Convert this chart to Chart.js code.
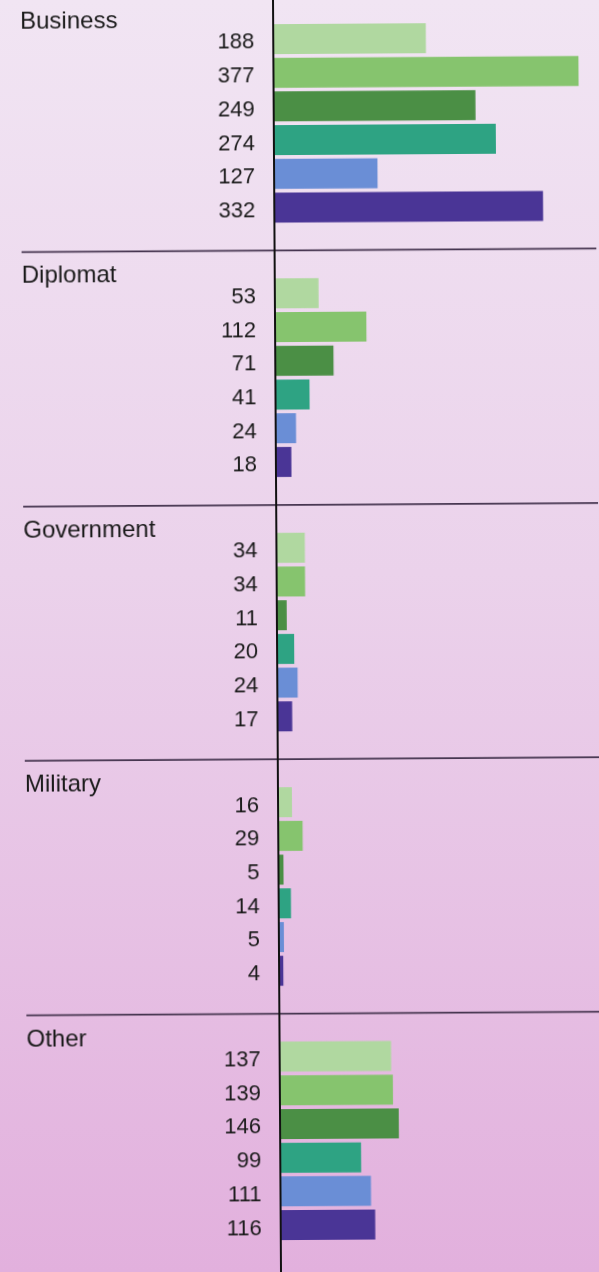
<!DOCTYPE html>
<html lang="en">
<head>
<meta charset="UTF-8" />
<title>Visitors by purpose</title>
<script src="https://cdn.jsdelivr.net/npm/chart.js"></script>
<style>
  html, body {
    margin: 0;
    padding: 0;
    width: 599px;
    height: 1272px;
    overflow: hidden;
    background: linear-gradient(to bottom, #f1e5f3 0%, #ebd2eb 45%, #e2b0dd 100%);
  }
  #wrap {
    position: absolute;
    left: 0;
    top: -10px;
    width: 599px;
    height: 1290px;
    transform: rotate(-0.36deg);
    transform-origin: 299.5px 646px;
  }
</style>
</head>
<body>
<div id="wrap"><canvas id="chart"></canvas></div>
<script>
  const categories = ["Business", "Diplomat", "Government", "Military", "Other"];
  // one array per bar colour, values in the order of the categories
  const series1 = [188, 53, 34, 16, 137];
  const series2 = [377, 112, 34, 29, 139];
  const series3 = [249, 71, 11, 5, 146];
  const series4 = [274, 41, 20, 14, 99];
  const series5 = [127, 24, 24, 5, 111];
  const series6 = [332, 18, 17, 4, 116];
  const colors = ["#b0d8a0", "#86c46e", "#4b8f45", "#2ea383", "#6a8ed6", "#4a3596"];

  const FONT = "'Liberation Sans', Arial, Helvetica, sans-serif";

  // separators, section titles, value labels and the vertical axis
  const decorations = {
    id: "decorations",
    afterDatasetsDraw(chart) {
      const ctx = chart.ctx;
      const area = chart.chartArea;
      const y = chart.scales.y;
      const n = categories.length;
      const seps = [];
      for (let i = 0; i < n - 1; i++) {
        seps.push((y.getPixelForValue(i) + y.getPixelForValue(i + 1)) / 2);
      }
      ctx.save();
      ctx.strokeStyle = "#45344f";
      ctx.lineWidth = 1.7;
      seps.forEach(s => {
        ctx.beginPath();
        ctx.moveTo(24, s);
        ctx.lineTo(chart.width, s);
        ctx.stroke();
      });

      ctx.fillStyle = "#1a1a1a";
      ctx.font = "24px " + FONT;
      ctx.textAlign = "left";
      ctx.textBaseline = "alphabetic";
      categories.forEach((c, i) => {
        const top = i === 0 ? area.top : seps[i - 1];
        ctx.fillText(c, 24, top + 31);
      });

      ctx.font = "22px " + FONT;
      ctx.textAlign = "right";
      chart.data.datasets.forEach((ds, di) => {
        const meta = chart.getDatasetMeta(di);
        meta.data.forEach((bar, i) => {
          ctx.fillText(String(ds.data[i]), area.left - 20, bar.y + 9.5);
        });
      });

      ctx.strokeStyle = "#111";
      ctx.lineWidth = 2;
      ctx.beginPath();
      ctx.moveTo(area.left - 1, 0);
      ctx.lineTo(area.left - 1, chart.height);
      ctx.stroke();
      ctx.restore();
    }
  };

  const allSeries = [series1, series2, series3, series4, series5, series6];

  new Chart(document.getElementById("chart"), {
    type: "bar",
    data: {
      labels: categories,
      datasets: allSeries.map((s, i) => ({
        label: "s" + (i + 1),
        data: s,
        backgroundColor: colors[i],
        borderWidth: 0,
        categoryPercentage: 0.795,
        barPercentage: 0.89
      }))
    },
    options: {
      indexAxis: "y",
      responsive: true,
      maintainAspectRatio: false,
      animation: false,
      layout: { padding: { left: 278, right: 0, top: 6, bottom: 12 } },
      plugins: {
        legend: { display: false },
        tooltip: { enabled: false }
      },
      scales: {
        x: { display: false, min: 0, max: 398, grid: { display: false } },
        y: { display: false, grid: { display: false } }
      }
    },
    plugins: [decorations]
  });
</script>
</body>
</html>
